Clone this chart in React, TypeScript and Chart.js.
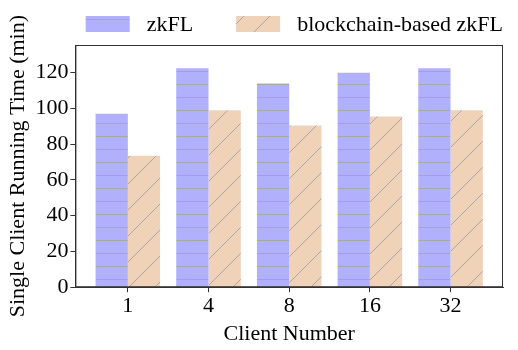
import React, { useEffect, useRef } from "react";
import { Chart, registerables } from "chart.js";

Chart.register(...registerables);

const categories = ["1", "4", "8", "16", "32"];
const zkflValues = [97, 122.5, 114, 120, 122.5];
const blockchainValues = [73.5, 99, 90.5, 95.5, 99];
const yTicks = [0, 20, 40, 60, 80, 100, 120];
const seriesNames = ["zkFL", "blockchain-based zkFL"];

const FONT = "'Liberation Serif', 'DejaVu Serif', serif";
const FS = 22;

function makeHatch(kind: "h" | "d", fill: string, line: string): CanvasPattern | string {
  const c = document.createElement("canvas");
  const s = kind === "h" ? 13 : 26;
  c.width = s;
  c.height = s;
  const ctx = c.getContext("2d");
  if (!ctx) return fill;
  ctx.fillStyle = fill;
  ctx.fillRect(0, 0, s, s);
  ctx.strokeStyle = line;
  ctx.lineWidth = 1;
  ctx.beginPath();
  if (kind === "h") {
    ctx.moveTo(0, 6.5);
    ctx.lineTo(s, 6.5);
  } else {
    ctx.moveTo(-2, s + 2);
    ctx.lineTo(s + 2, -2);
    ctx.moveTo(-2, 2);
    ctx.lineTo(2, -2);
    ctx.moveTo(s - 2, s + 2);
    ctx.lineTo(s + 2, s - 2);
  }
  ctx.stroke();
  const p = ctx.createPattern(c, "repeat");
  return p || fill;
}

const framePlugin = {
  id: "frame",
  afterDraw(chart: any) {
    const { ctx, chartArea } = chart;
    ctx.save();
    ctx.strokeStyle = "#333333";
    ctx.lineWidth = 1;
    ctx.strokeRect(chartArea.left + 0.5, chartArea.top + 0.5, chartArea.right - chartArea.left - 1, chartArea.bottom - chartArea.top - 1);
    ctx.restore();
  },
};

const legendPlugin = {
  id: "customLegend",
  afterDraw(chart: any) {
    const { ctx, chartArea } = chart;
    const boxW = 44, boxH = 16, gap = 17, itemGap = 43;
    ctx.save();
    ctx.font = `${FS}px ${FONT}`;
    ctx.textBaseline = "middle";
    ctx.textAlign = "left";
    const ds = chart.data.datasets;
    const widths = ds.map((d: any) => boxW + gap + ctx.measureText(d.label).width);
    const total = widths.reduce((a: number, b: number) => a + b, 0) + itemGap * (ds.length - 1);
    let x = chartArea.right - total;
    const cy = chartArea.top - 21;
    ds.forEach((d: any, i: number) => {
      ctx.fillStyle = d.backgroundColor;
      ctx.fillRect(x, cy - boxH / 2, boxW, boxH);
      ctx.fillStyle = "#000";
      ctx.fillText(d.label, x + boxW + gap, cy + 1);
      x += widths[i] + itemGap;
    });
    ctx.restore();
  },
};

export default function App() {
  const ref = useRef<HTMLCanvasElement>(null);
  useEffect(() => {
    if (!ref.current) return;
    const blue = makeHatch("h", "#b0b0fc", "#a8a8a8");
    const orange = makeHatch("d", "#f0d2b9", "#a8a8a8");
    const chart = new Chart(ref.current, {
      type: "bar",
      data: {
        datasets: [
          {
            label: seriesNames[0],
            data: zkflValues.map((v, i) => ({ x: i, y: v })),
            backgroundColor: blue as any,
            borderWidth: 0,
          },
          {
            label: seriesNames[1],
            data: blockchainValues.map((v, i) => ({ x: i, y: v })),
            backgroundColor: orange as any,
            borderWidth: 0,
          },
        ],
      },
      options: {
        animation: false,
        responsive: false,
        maintainAspectRatio: false,
        categoryPercentage: 0.8,
        barPercentage: 1.0,
        layout: { padding: { left: 5, right: 15, top: 45, bottom: 3 } },
        plugins: {
          tooltip: { enabled: false },
          legend: { display: false },
        },
        scales: {
          x: {
            type: "linear",
            min: -0.65,
            max: 4.65,
            offset: false,
            afterBuildTicks: (scale: any) => {
              scale.ticks = categories.map((_, i) => ({ value: i }));
            },
            ticks: {
              font: { family: FONT, size: FS },
              color: "#000",
              padding: 1,
              callback: (v: any) => categories[Math.round(Number(v))] ?? "",
            },
            grid: { display: true, offset: false, drawOnChartArea: false, tickLength: 5, color: "#333" },
            border: { display: true, color: "#333" },
            title: {
              display: true,
              text: "Client Number",
              font: { family: FONT, size: FS },
              color: "#000",
              padding: { top: 0, bottom: 0 },
            },
          },
          y: {
            min: 0,
            max: 135.5,
            afterBuildTicks: (scale: any) => {
              scale.ticks = yTicks.map((v) => ({ value: v }));
            },
            ticks: {
              font: { family: FONT, size: FS },
              color: "#000",
              padding: 2,
            },
            grid: { display: true, drawOnChartArea: false, tickLength: 5, color: "#333" },
            border: { display: true, color: "#333" },
            title: {
              display: true,
              text: "Single Client Running Time (min)",
              font: { family: FONT, size: FS },
              color: "#000",
              padding: { top: 0, bottom: 2 },
            },
          },
        },
      },
      plugins: [framePlugin, legendPlugin],
    });
    return () => chart.destroy();
  }, []);
  return (
    <div style={{ position: "fixed", left: 0, top: 0, width: 518, height: 350, background: "#fff" }}>
      <canvas ref={ref} width={518} height={350} />
    </div>
  );
}
